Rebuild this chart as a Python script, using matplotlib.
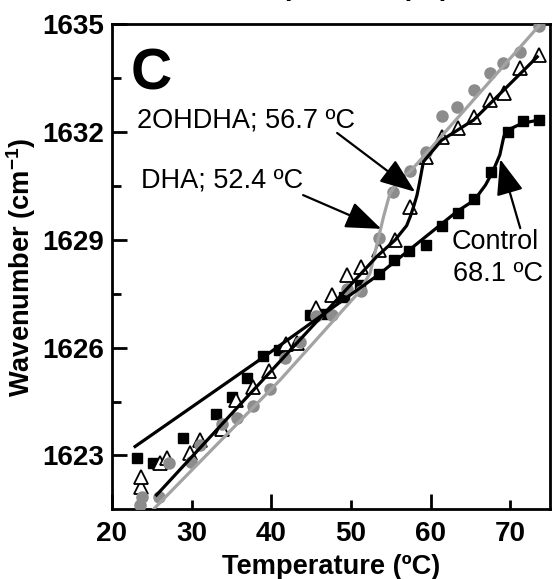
import matplotlib
matplotlib.use('Agg')
import matplotlib.pyplot as plt
from matplotlib.ticker import MultipleLocator, FixedLocator

plt.rcParams['font.family'] = ['Liberation Sans', 'DejaVu Sans']
plt.rcParams['mathtext.fontset'] = 'custom'
plt.rcParams['mathtext.bf'] = 'Liberation Sans:bold'
plt.rcParams['mathtext.rm'] = 'Liberation Sans'

# Control (black squares)
ctrl_t = [23.2, 25.1, 28.9, 33.1, 35.1, 37.0, 39.0, 41.0, 44.9, 46.5, 49.1, 51.2,
          53.5, 55.4, 57.3, 59.4, 61.5, 63.4, 65.5, 67.6, 69.7, 71.6, 73.6]
ctrl_w = [1622.92, 1622.78, 1623.50, 1624.16, 1624.64, 1625.16, 1625.76, 1625.94,
          1626.92, 1626.95, 1627.42, 1627.74, 1628.04, 1628.43, 1628.70, 1628.86,
          1629.40, 1629.74, 1630.14, 1630.88, 1632.00, 1632.30, 1632.35]
ctrl_fit_t = [22.9, 39.1, 53.45, 63.3, 65.5, 66.9, 67.8, 68.7, 69.2, 69.7, 71.5, 73.6]
ctrl_fit_w = [1623.25, 1625.75, 1628.03, 1629.79, 1630.11, 1630.53, 1630.90, 1631.37,
              1631.88, 1632.06, 1632.25, 1632.34]

# 2OHDHA (open triangles)
ohdha_t = [23.6, 23.7, 26.05, 26.9, 29.8, 31.1, 33.8, 35.6, 37.75, 39.7, 41.8, 43.2,
           45.6, 47.6, 49.5, 51.3, 53.5, 55.5, 57.4, 59.4, 61.5, 63.5, 65.4, 67.5,
           69.2, 71.25, 73.6]
ohdha_w = [1622.13, 1622.39, 1622.78, 1622.93, 1623.06, 1623.43, 1623.75, 1624.55,
           1624.91, 1625.36, 1626.10, 1626.12, 1627.10, 1627.47, 1628.03, 1628.24,
           1628.72, 1629.00, 1629.92, 1631.31, 1631.88, 1632.11, 1632.43, 1632.89,
           1633.08, 1633.78, 1634.15]
ohdha_fit_t = [25.6, 53.25, 55.55, 57.0, 57.45, 57.9, 58.3, 58.6, 59.1, 59.45, 61.4, 65.4, 73.4]
ohdha_fit_w = [1621.90, 1628.54, 1629.00, 1629.40, 1629.65, 1629.95, 1630.25, 1630.58,
               1631.18, 1631.27, 1631.78, 1632.34, 1634.10]

# DHA (grey circles)
dha_t = [23.5, 23.8, 25.95, 27.1, 29.9, 31.1, 33.8, 35.7, 37.75, 39.8, 41.7, 43.6,
         45.6, 47.6, 49.5, 51.3, 53.5, 55.3, 57.4, 59.4, 61.5, 63.3, 65.4, 67.5,
         69.1, 71.25, 73.6]
dha_w = [1621.62, 1621.85, 1621.85, 1622.78, 1622.83, 1623.29, 1623.89, 1624.03,
         1624.37, 1624.84, 1625.71, 1626.15, 1626.87, 1626.92, 1627.63, 1627.59,
         1629.05, 1630.35, 1630.91, 1631.46, 1632.44, 1632.70, 1633.18, 1633.65,
         1633.92, 1634.24, 1634.96]
dha_fit_t = [25.2, 41.1, 50.9, 52.4, 52.8, 53.45, 54.1, 54.9, 56.0, 57.4, 59.1, 73.6]
dha_fit_w = [1621.50, 1625.10, 1627.52, 1628.07, 1628.44, 1629.05, 1629.65, 1630.30,
             1630.67, 1630.90, 1631.32, 1634.96]

fig = plt.figure(figsize=(5.53, 5.79), dpi=100)
ax = fig.add_axes([0.2025, 0.1209, 0.7921, 0.8368])

grey_pt = '#8c8c8c'
grey_ln = '#a3a3a3'

ax.plot(ctrl_t, ctrl_w, 's', color='black', ms=7, zorder=3)
ax.plot(ohdha_t, ohdha_w, '^', mfc='white', mec='black', mew=1.3, ms=9.5, zorder=3)
ax.plot(dha_t, dha_w, 'o', color=grey_pt, ms=8, zorder=3)

ax.plot(dha_fit_t, dha_fit_w, '-', color=grey_ln, lw=2.3, zorder=4)
ax.plot(ctrl_fit_t, ctrl_fit_w, '-', color='black', lw=2.3, zorder=4)
ax.plot(ohdha_fit_t, ohdha_fit_w, '-', color='black', lw=2.3, zorder=4)

ax.set_xlim(20, 75.0)
ax.set_ylim(1621.51, 1635)

ax.xaxis.set_major_locator(FixedLocator([20, 40, 60]))
ax.xaxis.set_minor_locator(FixedLocator([30, 50, 70]))
ax.xaxis.set_minor_formatter(matplotlib.ticker.ScalarFormatter())
ax.yaxis.set_major_locator(MultipleLocator(3))
ax.yaxis.set_minor_locator(MultipleLocator(1.5))

ax.tick_params(which='both', direction='in', width=2, top=False, right=False)
ax.tick_params(which='major', length=11)
ax.tick_params(which='minor', length=6.5)
ax.tick_params(axis='x', which='both', pad=9, labelsize=20)
ax.tick_params(axis='y', which='major', pad=6, labelsize=20)
for lab in ax.get_xticklabels(which='both') + ax.get_yticklabels():
    lab.set_fontweight('bold')

for s in ax.spines.values():
    s.set_linewidth(2)

ax.set_xlabel('Temperature (ºC)', fontsize=19.6, fontweight='bold', labelpad=5)
ax.set_ylabel(r'Wavenumber (cm$^{\mathbf{-1}}$)', fontsize=19.6, fontweight='bold', labelpad=3)

# clipped label from the panel above
fig.text(231 / 553, 1 + 5 / 579, 'Temperature (ºC)', fontsize=19.6, fontweight='bold',
         ha='left', va='baseline')

ax.text(22.4, 1633.18, 'C', fontsize=41, fontweight='bold', ha='left', va='baseline')
ax.text(23.1, 1632.12, '2OHDHA; 56.7 ºC', fontsize=19.5, ha='left', va='baseline')
ax.text(23.6, 1630.45, 'DHA; 52.4 ºC', fontsize=19.5, ha='left', va='baseline')
ax.text(62.7, 1628.74, 'Control', fontsize=19.5, ha='left', va='baseline')
ax.text(62.8, 1627.86, '68.1 ºC', fontsize=19.5, ha='left', va='baseline')

arw = dict(arrowstyle='-|>,head_length=1.1,head_width=0.42', mutation_scale=20,
           lw=1.6, color='black', shrinkA=0, shrinkB=0)
ax.annotate('', xy=(58.07, 1630.34), xytext=(48.27, 1631.98), arrowprops=arw, zorder=5)
ax.annotate('', xy=(53.8, 1629.31), xytext=(44.0, 1630.25), arrowprops=arw, zorder=5)
ax.annotate('', xy=(68.74, 1631.25), xytext=(71.26, 1629.33), arrowprops=arw, zorder=5)

fig.savefig('out.png', dpi=100)
